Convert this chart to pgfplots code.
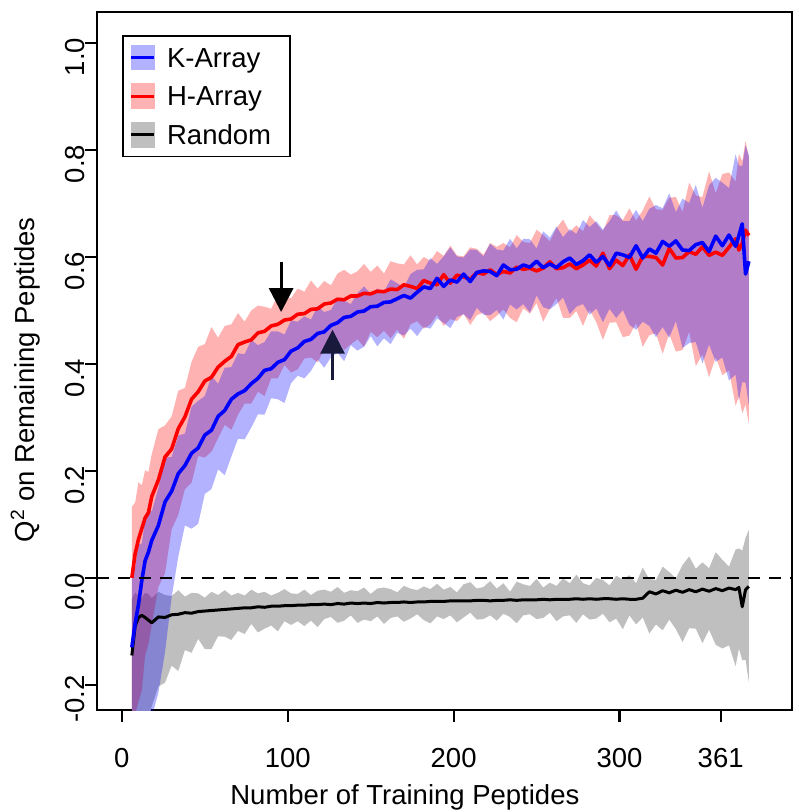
\documentclass[border=0pt]{standalone}
\usepackage{fontspec}
\setmainfont{Liberation Sans}
\usepackage{pgfplots}
\pgfplotsset{compat=1.18}
\usepackage{pgfplotstable}
\usepgfplotslibrary{fillbetween}
\usetikzlibrary{arrows.meta}

\definecolor{kline}{RGB}{0,0,255}
\definecolor{hline}{RGB}{255,0,0}
\definecolor{gfill}{RGB}{191,191,191}
\definecolor{uparrow}{RGB}{25,25,60}

\pgfplotstableread{
x rm rl ru bm bl bu gm gl gu
6 0.000 -0.278 0.133 -0.13 -0.26 0.019 -0.145 -0.26 -0.04
8 0.045 -0.255 0.141 -0.085 -0.26 0.02 -0.09 -0.26 -0.027
10 0.072 -0.232 0.179 -0.05 -0.26 0.063 -0.074 -0.26 -0.035
12 0.092 -0.21 0.173 -0.005 -0.26 0.064 -0.07 -0.26 -0.037
14 0.112 -0.145 0.201 0.032 -0.26 0.108 -0.074 -0.26 -0.028
16 0.122 -0.124 0.198 0.048 -0.26 0.128 -0.079 -0.265 -0.03
18 0.152 -0.087 0.231 0.07 -0.26 0.124 -0.084 -0.24 -0.038
22 0.183 -0.017 0.278 0.098 -0.215 0.168 -0.073 -0.203 -0.026
26 0.226 0.009 0.285 0.142 -0.139 0.225 -0.074 -0.196 -0.032
30 0.241 0.091 0.302 0.162 -0.036 0.226 -0.069 -0.164 -0.034
34 0.279 0.118 0.35 0.195 0.04 0.266 -0.068 -0.174 -0.023
38 0.301 0.166 0.355 0.21 0.098 0.27 -0.065 -0.135 -0.035
42 0.334 0.178 0.404 0.233 0.092 0.32 -0.066 -0.14 -0.028
46 0.348 0.228 0.432 0.243 0.101 0.331 -0.063 -0.114 -0.029
50 0.368 0.225 0.437 0.267 0.157 0.34 -0.062 -0.133 -0.037
54 0.375 0.236 0.469 0.276 0.166 0.377 -0.061 -0.133 -0.026
58 0.394 0.261 0.449 0.302 0.203 0.363 -0.06 -0.109 -0.032
62 0.405 0.286 0.471 0.313 0.192 0.393 -0.059 -0.11 -0.023
66 0.414 0.277 0.474 0.334 0.227 0.394 -0.058 -0.116 -0.033
70 0.436 0.305 0.495 0.344 0.26 0.42 -0.057 -0.099 -0.028
74 0.441 0.326 0.479 0.35 0.259 0.418 -0.056 -0.105 -0.033
78 0.445 0.326 0.5 0.363 0.281 0.445 -0.056 -0.086 -0.022
82 0.458 0.348 0.509 0.373 0.306 0.435 -0.054 -0.102 -0.029
86 0.461 0.34 0.507 0.388 0.305 0.441 -0.055 -0.095 -0.026
90 0.471 0.373 0.503 0.391 0.336 0.461 -0.053 -0.089 -0.033
94 0.474 0.373 0.529 0.403 0.334 0.461 -0.053 -0.1 -0.028
98 0.482 0.398 0.523 0.408 0.327 0.455 -0.052 -0.081 -0.021
102 0.484 0.384 0.523 0.424 0.364 0.481 -0.052 -0.088 -0.029
106 0.493 0.39 0.541 0.43 0.378 0.479 -0.051 -0.081 -0.03
110 0.494 0.41 0.535 0.442 0.373 0.489 -0.051 -0.09 -0.022
114 0.502 0.412 0.556 0.446 0.387 0.483 -0.05 -0.08 -0.032
118 0.503 0.403 0.541 0.457 0.408 0.508 -0.05 -0.092 -0.024
122 0.512 0.427 0.555 0.46 0.393 0.497 -0.049 -0.077 -0.022
126 0.514 0.42 0.547 0.472 0.412 0.501 -0.05 -0.073 -0.026
130 0.521 0.446 0.569 0.477 0.421 0.522 -0.048 -0.084 -0.017
134 0.52 0.426 0.576 0.487 0.405 0.518 -0.049 -0.08 -0.028
138 0.527 0.437 0.567 0.489 0.435 0.512 -0.047 -0.07 -0.023
142 0.527 0.446 0.573 0.497 0.425 0.532 -0.048 -0.084 -0.025
146 0.532 0.432 0.587 0.499 0.432 0.545 -0.047 -0.078 -0.018
150 0.531 0.46 0.572 0.507 0.452 0.531 -0.048 -0.081 -0.03
154 0.536 0.45 0.584 0.508 0.433 0.541 -0.046 -0.072 -0.02
158 0.535 0.462 0.569 0.515 0.448 0.535 -0.047 -0.086 -0.018
162 0.54 0.448 0.592 0.516 0.437 0.558 -0.046 -0.075 -0.021
166 0.539 0.464 0.588 0.522 0.458 0.551 -0.046 -0.072 -0.027
170 0.548 0.447 0.586 0.528 0.453 0.543 -0.045 -0.082 -0.015
174 0.545 0.474 0.603 0.523 0.466 0.568 -0.046 -0.076 -0.02
178 0.541 0.48 0.586 0.534 0.452 0.576 -0.045 -0.068 -0.023
182 0.556 0.466 0.6 0.544 0.469 0.577 -0.045 -0.079 -0.016
186 0.551 0.474 0.593 0.541 0.466 0.598 -0.044 -0.085 -0.021
190 0.548 0.492 0.611 0.56 0.485 0.587 -0.044 -0.072 -0.011
194 0.567 0.471 0.602 0.545 0.477 0.601 -0.044 -0.077 -0.022
198 0.551 0.484 0.621 0.557 0.467 0.618 -0.043 -0.07 -0.017
202 0.566 0.48 0.603 0.553 0.488 0.601 -0.043 -0.083 -0.027
206 0.563 0.494 0.601 0.568 0.493 0.599 -0.043 -0.074 -0.012
210 0.558 0.473 0.618 0.554 0.482 0.614 -0.043 -0.065 -0.008
214 0.571 0.491 0.615 0.571 0.505 0.613 -0.042 -0.078 -0.02
218 0.568 0.496 0.604 0.574 0.492 0.601 -0.042 -0.077 -0.017
222 0.576 0.48 0.626 0.573 0.491 0.625 -0.043 -0.07 -0.006
226 0.567 0.49 0.619 0.565 0.501 0.614 -0.042 -0.08 -0.02
230 0.573 0.502 0.626 0.585 0.483 0.612 -0.042 -0.067 -0.01
234 0.57 0.486 0.618 0.576 0.511 0.634 -0.041 -0.073 -0.026
238 0.581 0.478 0.641 0.577 0.502 0.616 -0.042 -0.085 -0.007
242 0.577 0.504 0.628 0.585 0.512 0.634 -0.041 -0.07 -0.012
246 0.579 0.494 0.626 0.581 0.496 0.633 -0.041 -0.068 -0.015
250 0.574 0.514 0.651 0.592 0.528 0.616 -0.041 -0.077 -0.002
254 0.579 0.479 0.641 0.58 0.506 0.648 -0.04 -0.075 -0.018
258 0.591 0.503 0.629 0.587 0.502 0.636 -0.041 -0.065 -0.009
262 0.578 0.523 0.654 0.58 0.512 0.657 -0.04 -0.081 -0.015
266 0.58 0.486 0.67 0.591 0.524 0.637 -0.04 -0.072 -0.001
270 0.587 0.486 0.647 0.598 0.493 0.652 -0.04 -0.07 -0.01
274 0.578 0.499 0.659 0.586 0.507 0.643 -0.039 -0.084 0.006
278 0.585 0.471 0.648 0.593 0.512 0.669 -0.04 -0.068 -0.01
282 0.594 0.501 0.678 0.604 0.492 0.656 -0.039 -0.078 -0.014
286 0.583 0.478 0.663 0.59 0.504 0.667 -0.04 -0.076 0.0
290 0.607 0.445 0.648 0.601 0.478 0.651 -0.039 -0.067 -0.004
294 0.578 0.477 0.678 0.584 0.503 0.667 -0.039 -0.083 -0.014
298 0.594 0.478 0.678 0.607 0.486 0.687 -0.04 -0.076 0.004
302 0.584 0.45 0.669 0.604 0.501 0.667 -0.039 -0.096 -0.003
306 0.604 0.453 0.691 0.599 0.473 0.667 -0.04 -0.07 0.005
310 0.577 0.476 0.668 0.621 0.464 0.688 -0.04 -0.087 -0.01
314 0.601 0.432 0.687 0.598 0.479 0.667 -0.038 -0.074 0.019
318 0.601 0.454 0.713 0.615 0.471 0.69 -0.026 -0.104 -0.002
322 0.599 0.457 0.689 0.607 0.45 0.697 -0.03 -0.087 -0.004
326 0.585 0.419 0.688 0.629 0.469 0.691 -0.024 -0.098 0.021
330 0.616 0.456 0.711 0.62 0.449 0.719 -0.028 -0.078 0.011
334 0.598 0.423 0.712 0.63 0.48 0.684 -0.023 -0.096 -0.001
338 0.599 0.426 0.684 0.613 0.43 0.709 -0.027 -0.12 0.024
342 0.61 0.46 0.739 0.612 0.439 0.701 -0.022 -0.094 0.04
346 0.605 0.396 0.715 0.623 0.441 0.735 -0.026 -0.095 0.017
350 0.619 0.418 0.712 0.627 0.401 0.692 -0.021 -0.122 0.029
354 0.603 0.375 0.76 0.61 0.436 0.734 -0.025 -0.097 0.018
358 0.609 0.413 0.719 0.639 0.404 0.748 -0.02 -0.125 0.048
362 0.603 0.379 0.755 0.621 0.412 0.739 -0.024 -0.132 0.034
366 0.618 0.388 0.758 0.641 0.369 0.729 -0.019 -0.126 0.021
370 0.634 0.322 0.741 0.62 0.38 0.792 -0.022 -0.165 0.053
372 0.613 0.339 0.793 0.64 0.332 0.771 -0.018 -0.132 0.055
374 0.626 0.308 0.779 0.662 0.366 0.77 -0.054 -0.154 0.051
376 0.65 0.324 0.817 0.568 0.365 0.809 -0.022 -0.153 0.075
378 0.64 0.288 0.786 0.592 0.322 0.79 -0.016 -0.195 0.09
}\data

\newcommand{\chartfont}{\fontsize{13.75pt}{16pt}\selectfont}

\begin{document}
\chartfont
\begin{tikzpicture}
\begin{axis}[
  name=ax,
  scale only axis,
  width=347.5pt, height=349pt,
  xmin=-15, xmax=404,
  ymin=-0.247, ymax=1.058,
  xtick={0,100,200,300,361},
  xticklabels={0,100,200,300,361},
  ytick={-0.2,0,0.2,0.4,0.6,0.8,1.0},
  yticklabels={-0.2,0.0,0.2,0.4,0.6,0.8,1.0},
  tick pos=left,
  tick align=outside,
  major tick length=6pt,
  every tick/.style={black, line width=1.1pt},
  axis line style={line width=1.2pt},
  /pgf/number format/assume math mode=true,
  every tick label/.append style={font=\chartfont},
  xticklabel style={anchor=north, inner sep=0pt, yshift=-13pt},
  yticklabel style={rotate=90, anchor=south, inner sep=0pt, xshift=-7pt},
  xlabel={Number of Training Peptides},
  xlabel style={at={(axis description cs:0.443,-0.135)}, anchor=base, font=\chartfont},
  ylabel={Q\textsuperscript{2} on Remaining Peptides},
  ylabel style={at={(axis description cs:-0.09,0.473)}, anchor=base, rotate=0, font=\chartfont},
  legend cell align=left,
  legend style={at={(axis description cs:0.036,0.967)}, anchor=north west,
    draw=black, line width=0.8pt, fill=white,
    inner xsep=3.5pt, inner ysep=4.5pt,
    row sep=6.5pt,
    nodes={inner sep=0pt, text depth=0pt, font=\chartfont}},
]
\addlegendimage{legend image code/.code={\fill[blue!30] (0pt,-6pt) rectangle (11.5pt,6pt); \draw[kline, line width=1.5pt] (0pt,0pt) -- (11.5pt,0pt); \path (17.5pt,0pt);}}
\addlegendentry{K-Array}
\addlegendimage{legend image code/.code={\fill[red!30] (0pt,-6pt) rectangle (11.5pt,6pt); \draw[hline, line width=1.5pt] (0pt,0pt) -- (11.5pt,0pt); \path (17.5pt,0pt);}}
\addlegendentry{H-Array}
\addlegendimage{legend image code/.code={\fill[gfill] (0pt,-6pt) rectangle (11.5pt,6pt); \draw[black, line width=1.5pt] (0pt,0pt) -- (11.5pt,0pt); \path (17.5pt,0pt);}}
\addlegendentry{Random\hspace*{6pt}}

% Random
\addplot[name path=gu, draw=none, forget plot] table[x=x,y=gu]{\data};
\addplot[name path=gl, draw=none, forget plot] table[x=x,y=gl]{\data};
\addplot[fill=gfill, draw=none, forget plot] fill between[of=gu and gl];
\addplot[black, line width=1.5pt, line join=round, forget plot] table[x=x,y=gm]{\data};
% H-Array
\addplot[name path=ru, draw=none, forget plot] table[x=x,y=ru]{\data};
\addplot[name path=rl, draw=none, forget plot] table[x=x,y=rl]{\data};
\addplot[fill=red, fill opacity=0.3, draw=none, forget plot] fill between[of=ru and rl];
\addplot[hline, line width=1.8pt, line join=round, forget plot] table[x=x,y=rm]{\data};
% K-Array
\addplot[name path=bu, draw=none, forget plot] table[x=x,y=bu]{\data};
\addplot[name path=bl, draw=none, forget plot] table[x=x,y=bl]{\data};
\addplot[fill=blue, fill opacity=0.3, draw=none, forget plot] fill between[of=bu and bl];
\addplot[kline, line width=1.8pt, line join=round, forget plot] table[x=x,y=bm]{\data};
% zero line
\addplot[black, line width=1.3pt, dash pattern=on 6pt off 4.5pt, forget plot] coordinates {(-15,0) (404,0)};
% arrows
\draw[-{Triangle[width=12pt,length=12pt]}, line width=1.6pt, black] (axis cs:96,0.591) -- (axis cs:96,0.497);
\draw[-{Triangle[width=12pt,length=12pt]}, line width=1.6pt, uparrow] (axis cs:127,0.37) -- (axis cs:127,0.464);
\end{axis}
\pgfresetboundingbox
\useasboundingbox ([xshift=-48.5pt,yshift=-51pt]ax.south west) rectangle ([xshift=3pt,yshift=6pt]ax.north east);
\end{tikzpicture}
\end{document}
